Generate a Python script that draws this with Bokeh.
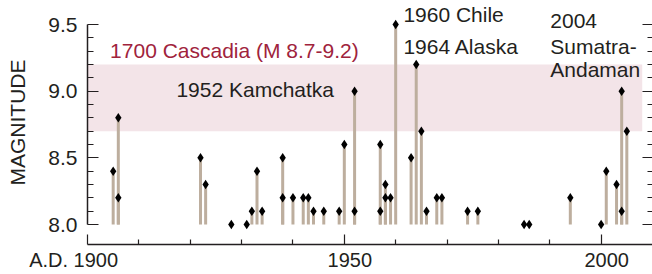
from bokeh.plotting import figure
from bokeh.models import ColumnDataSource, LinearAxis, FixedTicker, Range1d, BoxAnnotation, Label
from bokeh.embed import file_html
from bokeh.resources import INLINE

# ---- data ----
years = [1905, 1906, 1906, 1922, 1923, 1928, 1931, 1932, 1933, 1934,
         1938, 1938, 1940, 1942, 1943, 1944, 1946, 1949, 1950, 1952,
         1952, 1957, 1957, 1958, 1958, 1959, 1960, 1963, 1964, 1965,
         1966, 1968, 1969, 1974, 1976, 1985, 1986, 1994, 2000, 2001,
         2003, 2004, 2004, 2005]
mags = [8.4, 8.8, 8.2, 8.5, 8.3, 8.0, 8.0, 8.1, 8.4, 8.1,
        8.5, 8.2, 8.2, 8.2, 8.2, 8.1, 8.1, 8.1, 8.6, 9.0,
        8.1, 8.6, 8.1, 8.3, 8.2, 8.2, 9.5, 8.5, 9.2, 8.7,
        8.1, 8.2, 8.2, 8.1, 8.1, 8.0, 8.0, 8.2, 8.0, 8.4,
        8.3, 9.0, 8.1, 8.7]
base_mag = 8.0
cascadia_range = [8.7, 9.2]
band_years = [1900, 2008]
y_major = [8.0, 8.5, 9.0, 9.5]
y_minor = [8.1, 8.2, 8.3, 8.4, 8.6, 8.7, 8.8, 8.9, 9.1, 9.2, 9.3, 9.4]
x_major = [1900, 1950, 2000]
x_minor = [1910, 1920, 1930, 1940, 1960, 1970, 1980, 1990]
x_tick_labels = ["A.D. 1900", "1950", "2000"]

FONT = "Liberation Sans"
FS = "21px"
INK = "#231f20"
STEM = "#bdae9e"
BAND = "#f3e4e8"
RED = "#a0233c"
NB = "\u00a0"
# padding (non-breaking spaces) nudges the centred tick labels as in the original
label_pad = [("", NB * 5), (NB * 2, ""), (NB * 2, "")]

src = ColumnDataSource(dict(x=years, y=mags, y0=[base_mag] * len(years)))

p = figure(width=652, height=274,
           x_range=Range1d(1900, 2010), y_range=Range1d(7.85, 9.68),
           output_backend="svg", toolbar_location=None,
           min_border_left=87, min_border_right=0, min_border_top=0, min_border_bottom=30)
p.grid.visible = False
p.outline_line_color = None
p.background_fill_color = "white"
p.border_fill_color = "white"

band = BoxAnnotation(left=band_years[0], right=band_years[1],
                     bottom=cascadia_range[0], top=cascadia_range[1],
                     fill_color=BAND, fill_alpha=1.0, line_color=None, level="underlay")
p.add_layout(band)

p.segment(x0="x", y0="y0", x1="x", y1="y", source=src, line_color=STEM, line_width=3)
p.scatter(x="x", y="y", source=src, marker="diamond", size=9.5, fill_color="black", line_color=None)

# x axis
xa = p.xaxis[0]
xa.ticker = FixedTicker(ticks=x_major, minor_ticks=x_minor)
xa.major_tick_in = 10
xa.major_tick_out = 0
xa.minor_tick_in = 5
xa.minor_tick_out = 0
xa.axis_line_color = INK
xa.major_tick_line_color = INK
xa.minor_tick_line_color = INK
xa.axis_line_width = 1.5
xa.major_tick_line_width = 1.2
xa.minor_tick_line_width = 1.2
xa.major_label_overrides = {v: pre + t + post for v, t, (pre, post) in zip(x_major, x_tick_labels, label_pad)}
xa.major_label_text_font = FONT
xa.major_label_text_font_size = "20px"
xa.major_label_text_color = INK
xa.major_label_standoff = 4

# left y axis
ya = p.yaxis[0]
ya.ticker = FixedTicker(ticks=y_major, minor_ticks=y_minor)
ya.bounds = (y_major[0], y_major[-1])
ya.major_tick_in = 11
ya.major_tick_out = 0
ya.minor_tick_in = 6
ya.minor_tick_out = 0
ya.axis_line_color = INK
ya.major_tick_line_color = INK
ya.minor_tick_line_color = INK
ya.axis_line_width = 1.5
ya.major_tick_line_width = 1.2
ya.minor_tick_line_width = 1.2
ya.major_label_overrides = {v: f"{v:.1f}" for v in y_major}
ya.major_label_text_font = FONT
ya.major_label_text_font_size = FS
ya.major_label_text_color = INK
ya.major_label_standoff = 10
ya.axis_label = "MAGNITUDE"
ya.axis_label_text_font = FONT
ya.axis_label_text_font_size = FS
ya.axis_label_text_font_style = "normal"
ya.axis_label_text_color = INK
ya.axis_label_standoff = 16

# right y axis (ticks only)
ra = LinearAxis(ticker=FixedTicker(ticks=y_major, minor_ticks=y_minor),
                bounds=(y_major[0], y_major[-1]))
ra.major_tick_in = 10
ra.major_tick_out = 0
ra.minor_tick_in = 5
ra.minor_tick_out = 0
ra.axis_line_color = None
ra.major_tick_line_color = INK
ra.minor_tick_line_color = INK
ra.major_tick_line_width = 1.2
ra.minor_tick_line_width = 1.2
ra.major_label_overrides = {v: "" for v in y_major}
ra.major_label_standoff = 0
p.add_layout(ra, "right")

def note(x, y, txt, color=INK, align="left"):
    p.add_layout(Label(x=x, y=y, text=txt, text_align=align, text_baseline="alphabetic",
                       text_font=FONT, text_font_size=FS, text_color=color))

note(1904.4, 9.306, "1700 Cascadia (M 8.7-9.2)", color=RED)
note(1948.0, 9.012, "1952 Kamchatka", align="right")
note(1961.5, 9.575, "1960 Chile")
note(1961.5, 9.337, "1964 Alaska")
note(1990.1, 9.525, "2004")
note(1990.1, 9.337, "Sumatra-")
note(1990.1, 9.162, "Andaman")

open("out.html", "w").write(file_html(p, INLINE))
